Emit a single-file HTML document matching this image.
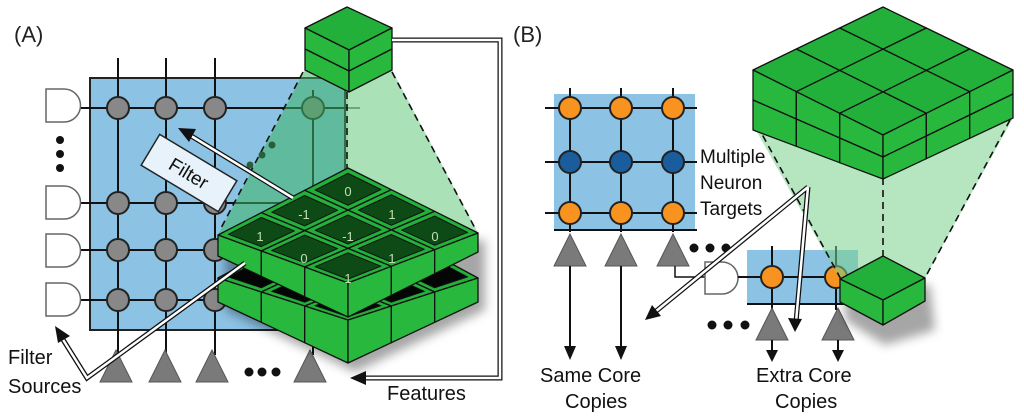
<!DOCTYPE html>
<html><head><meta charset="utf-8">
<style>
html,body{margin:0;padding:0;background:#fff;}
svg{display:block;font-family:"Liberation Sans",sans-serif;}
</style></head>
<body>
<svg id="s" width="1024" height="419" viewBox="0 0 1024 419" xmlns="http://www.w3.org/2000/svg">
<defs>
<filter id="sh" x="-20%" y="-20%" width="140%" height="140%"><feGaussianBlur stdDeviation="5"/></filter>
</defs>
<text x="14" y="42" font-size="22" fill="#222">(A)</text>
<rect x="90" y="78" width="255" height="252" fill="#8cc2e4" stroke="#222" stroke-width="2"/>
<g stroke="#111" stroke-width="2">
<line x1="118" y1="58" x2="118" y2="355"/><line x1="166" y1="58" x2="166" y2="355"/>
<line x1="215" y1="58" x2="215" y2="355"/><line x1="313" y1="90" x2="313" y2="355"/>
<line x1="80" y1="108" x2="360" y2="108"/><line x1="80" y1="203" x2="360" y2="203"/>
<line x1="80" y1="250" x2="360" y2="250"/><line x1="80" y1="300" x2="360" y2="300"/>
</g>
<g fill="#888" stroke="#222" stroke-width="2">
<circle cx="118" cy="108" r="11"/><circle cx="166" cy="108" r="11"/><circle cx="215" cy="108" r="11"/>
<circle cx="118" cy="203" r="11"/><circle cx="166" cy="203" r="11"/><circle cx="215" cy="203" r="11"/>
<circle cx="118" cy="250" r="11"/><circle cx="166" cy="250" r="11"/><circle cx="215" cy="250" r="11"/>
<circle cx="118" cy="300" r="11"/><circle cx="166" cy="300" r="11"/><circle cx="215" cy="300" r="11"/>
<circle cx="313" cy="108" r="11"/>
</g>
<g fill="#fff" stroke="#666" stroke-width="1.5">
<path d="M46,89 h18 a16.5,16.5 0 0 1 0,33 h-18 z"/>
<path d="M46,186 h18 a16.5,16.5 0 0 1 0,33 h-18 z"/>
<path d="M46,234 h18 a16.5,16.5 0 0 1 0,33 h-18 z"/>
<path d="M46,283 h18 a16.5,16.5 0 0 1 0,33 h-18 z"/>
</g>
<g fill="#111"><circle cx="60" cy="140" r="4"/><circle cx="60" cy="154" r="4"/><circle cx="60" cy="168" r="4"/>
<circle cx="249" cy="372" r="4.5"/><circle cx="262" cy="372" r="4.5"/><circle cx="276" cy="372" r="4.5"/></g>
<g fill="#7a7a7a" stroke="#555" stroke-width="1">
<polygon points="116,350 100,382 132,382"/><polygon points="165,350 149,382 181,382"/>
<polygon points="212,350 196,382 228,382"/><polygon points="310,350 294,382 326,382"/>
</g>
<polygon points="305,70 392,70 478,233 348,283 218,235" fill="rgba(60,180,100,0.55)"/>
<polygon points="348,90 392,70 478,233 348,168" fill="rgba(200,240,200,0.45)"/>
<g stroke="#111" stroke-width="1.6" stroke-dasharray="7,5" fill="none">
<line x1="303" y1="72" x2="220" y2="230"/><line x1="392" y1="72" x2="476" y2="230"/><line x1="347" y1="92" x2="347" y2="170"/>
</g>
<g fill="#2a5e3a"><circle cx="272" cy="145" r="3.5"/><circle cx="262" cy="155" r="3.5"/><circle cx="250" cy="165" r="3.5"/></g>
<g transform="translate(189,173) rotate(31)">
<rect x="-45" y="-18" width="90" height="36" fill="#e8f2fa" stroke="#222" stroke-width="1.5"/>
<text x="0" y="7" font-size="19" text-anchor="middle" fill="#111">Filter</text>
</g>
<g id="plateA"></g>
<g font-size="13" fill="#bde0b0" text-anchor="middle">
<text x="348" y="196">0</text><text x="304" y="219">-1</text><text x="392" y="219">1</text>
<text x="260" y="241">1</text><text x="348" y="241">-1</text><text x="435" y="241">0</text>
<text x="304" y="263">0</text><text x="392" y="263">1</text><text x="348" y="283">1</text>
</g>
<g id="cubes"></g>
<g fill="none" stroke-linejoin="miter">
<path d="M293,198 L188,134" stroke="#111" stroke-width="5"/>
<path d="M293,198 L188,134" stroke="#fff" stroke-width="2.5"/>
<path d="M245,263 L87,378 L62,338" stroke="#111" stroke-width="5"/>
<path d="M245,263 L87,378 L62,338" stroke="#fff" stroke-width="2.5"/>
<path d="M392,40 L500,40 L500,378 L362,378" stroke="#111" stroke-width="5"/>
<path d="M392,40 L500,40 L500,378 L362,378" stroke="#fff" stroke-width="2.5"/>
</g>
<polygon points="178,128 196,129 189,142" fill="#111"/>
<polygon points="55,326 70,336 58,343" fill="#111"/>
<polygon points="350,378 366,371 366,385" fill="#111"/>
<text x="8" y="364" font-size="20" fill="#111">Filter</text>
<text x="8" y="393" font-size="20" fill="#111">Sources</text>
<text x="387" y="400" font-size="20" fill="#111">Features</text>

<text x="513" y="42" font-size="22" fill="#222">(B)</text>
<rect x="554" y="94" width="141" height="136" fill="#8cc2e4"/>
<g stroke="#111" stroke-width="2">
<line x1="570" y1="88" x2="570" y2="232"/><line x1="621" y1="88" x2="621" y2="232"/><line x1="673" y1="88" x2="673" y2="232"/>
<line x1="545" y1="108" x2="697" y2="108"/><line x1="545" y1="162" x2="697" y2="162"/><line x1="545" y1="213" x2="697" y2="213"/>
<line x1="554" y1="230" x2="697" y2="230"/>
</g>
<g stroke="#222" stroke-width="2">
<circle cx="570" cy="108" r="11" fill="#f7931e"/><circle cx="621" cy="108" r="11" fill="#f7931e"/><circle cx="673" cy="108" r="11" fill="#f7931e"/>
<circle cx="570" cy="162" r="11" fill="#1a5d9c"/><circle cx="621" cy="162" r="11" fill="#1a5d9c"/><circle cx="673" cy="162" r="11" fill="#1a5d9c"/>
<circle cx="570" cy="213" r="11" fill="#f7931e"/><circle cx="621" cy="213" r="11" fill="#f7931e"/><circle cx="673" cy="213" r="11" fill="#f7931e"/>
</g>
<g fill="#7a7a7a" stroke="#555" stroke-width="1">
<polygon points="570,234 554,266 586,266"/><polygon points="621,234 605,266 637,266"/><polygon points="673,234 657,266 689,266"/>
</g>
<g stroke="#111" stroke-width="2">
<line x1="570" y1="266" x2="570" y2="350"/><line x1="621" y1="266" x2="621" y2="350"/>
</g>
<polygon points="570,360 564,346 576,346" fill="#111"/><polygon points="621,360 615,346 627,346" fill="#111"/>
<g fill="#111"><circle cx="694" cy="248" r="4.5"/><circle cx="710" cy="248" r="4.5"/><circle cx="726" cy="248" r="4.5"/>
<circle cx="712" cy="325" r="4.5"/><circle cx="728" cy="325" r="4.5"/><circle cx="745" cy="325" r="4.5"/></g>
<path d="M675,266 V277 H705" stroke="#111" stroke-width="1.5" fill="none"/>
<path d="M705,262 h17 a16,16 0 0 1 0,32 h-17 z" fill="#fff" stroke="#666" stroke-width="1.5"/>
<rect x="747" y="250" width="111" height="54" fill="#8cc2e4"/>
<g stroke="#111" stroke-width="2">
<line x1="738" y1="277" x2="850" y2="277"/><line x1="747" y1="304" x2="858" y2="304"/>
<line x1="772" y1="246" x2="772" y2="310"/><line x1="836" y1="246" x2="836" y2="310"/>
</g>
<g stroke="#222" stroke-width="2" fill="#f7931e"><circle cx="772" cy="277" r="11"/><circle cx="836" cy="277" r="11"/></g>
<g fill="#7a7a7a" stroke="#555" stroke-width="1">
<polygon points="772,308 756,340 788,340"/><polygon points="838,308 822,340 854,340"/>
</g>
<g stroke="#111" stroke-width="2"><line x1="772" y1="340" x2="772" y2="352"/><line x1="838" y1="340" x2="838" y2="352"/></g>
<polygon points="772,362 766,350 778,350" fill="#111"/><polygon points="838,362 832,350 844,350" fill="#111"/>
<polygon points="753,125 883,178 1013,118 925,278 842,283" fill="rgba(120,210,140,0.55)"/>
<g stroke="#111" stroke-width="1.6" stroke-dasharray="7,5" fill="none">
<line x1="757" y1="125" x2="843" y2="283"/><line x1="1010" y1="120" x2="926" y2="276"/><line x1="883" y1="178" x2="883" y2="256"/>
</g>
<g id="cubesB"></g>
<g fill="none">
<path d="M808,187 L655,312 M808,187 L796,322" stroke="#111" stroke-width="5"/>
<path d="M808,187 L655,312 M808,187 L796,322" stroke="#fff" stroke-width="2.5"/>
</g>
<polygon points="645,320 652,305 661,316" fill="#111"/>
<polygon points="795,332 788,318 802,319" fill="#111"/>
<text x="700" y="163" font-size="19" fill="#111">Multiple</text>
<text x="700" y="189" font-size="19" fill="#111">Neuron</text>
<text x="700" y="215" font-size="19" fill="#111">Targets</text>
<text x="540" y="382" font-size="20" fill="#111">Same Core</text>
<text x="565" y="408" font-size="20" fill="#111">Copies</text>
<text x="756" y="382" font-size="20" fill="#111">Extra Core</text>
<text x="775" y="408" font-size="20" fill="#111">Copies</text>
</svg>
<script>
var NS="http://www.w3.org/2000/svg";
function bl(q,u,v){var T=q[0],R=q[1],B=q[2],L=q[3];return[(1-u)*(1-v)*T[0]+u*(1-v)*R[0]+u*v*B[0]+(1-u)*v*L[0],(1-u)*(1-v)*T[1]+u*(1-v)*R[1]+u*v*B[1]+(1-u)*v*L[1]];}
function poly(g,pts,fill,sw){var p=document.createElementNS(NS,"polygon");p.setAttribute("points",pts.map(function(a){return a[0].toFixed(1)+","+a[1].toFixed(1)}).join(" "));p.setAttribute("fill",fill);p.setAttribute("stroke","#111");p.setAttribute("stroke-width",sw||1.3);p.setAttribute("stroke-linejoin","round");g.appendChild(p);}
function cell(q,u0,u1,v0,v1){return[bl(q,u0,v0),bl(q,u1,v0),bl(q,u1,v1),bl(q,u0,v1)];}
function block(g,T,R,B,L,hL,hB,hR,n,inner,rows){
 var q=[T,R,B,L];
 for(var i=0;i<n;i++)for(var j=0;j<n;j++){
  poly(g,cell(q,i/n,(i+1)/n,j/n,(j+1)/n),"#22b03a");
  if(inner){var e=0.12;poly(g,cell(q,(i+e)/n,(i+1-e)/n,(j+e)/n,(j+1-e)/n),inner,1);}
 }
 var Lb=[L[0],L[1]+hL],Bb=[B[0],B[1]+hB],Rb=[R[0],R[1]+hR];
 var qs=[L,B,Bb,Lb];var qr=[B,R,Rb,Bb];
 [qs,qr].forEach(function(a){
  for(var i=0;i<n;i++)for(var r=0;r<rows;r++){
   poly(g,[bl(a,i/n,r/rows),bl(a,(i+1)/n,r/rows),bl(a,(i+1)/n,(r+1)/rows),bl(a,i/n,(r+1)/rows)],"#28b83e");
  }
 });
}
var gA=document.getElementById("plateA");
var sh=document.createElementNS(NS,"polygon");sh.setAttribute("points","225,245 485,240 485,310 355,372 225,310");sh.setAttribute("fill","rgba(0,0,0,0.35)");sh.setAttribute("filter","url(#sh)");gA.appendChild(sh);
block(gA,[348,208],[478,278],[348,320],[218,278],24,43,24,3,"#050505",1);
block(gA,[348,168],[478,233],[348,283],[218,235],21,34,19,3,"#0d4a16",1);
var gc=document.getElementById("cubes");
block(gc,[347,7],[392,28],[349,50],[305,28],42,42,42,1,null,2);
var gb=document.getElementById("cubesB");
var sh2=document.createElementNS(NS,"polygon");sh2.setAttribute("points","845,290 930,285 935,330 885,345 845,320");sh2.setAttribute("fill","rgba(0,0,0,0.35)");sh2.setAttribute("filter","url(#sh)");gb.appendChild(sh2);
block(gb,[883,7],[1013,70],[883,135],[753,70],60,44,48,3,null,2);
block(gb,[883,256],[925,278],[883,300],[840,279],23,25,23,1,null,1);
</script>
</body></html>
